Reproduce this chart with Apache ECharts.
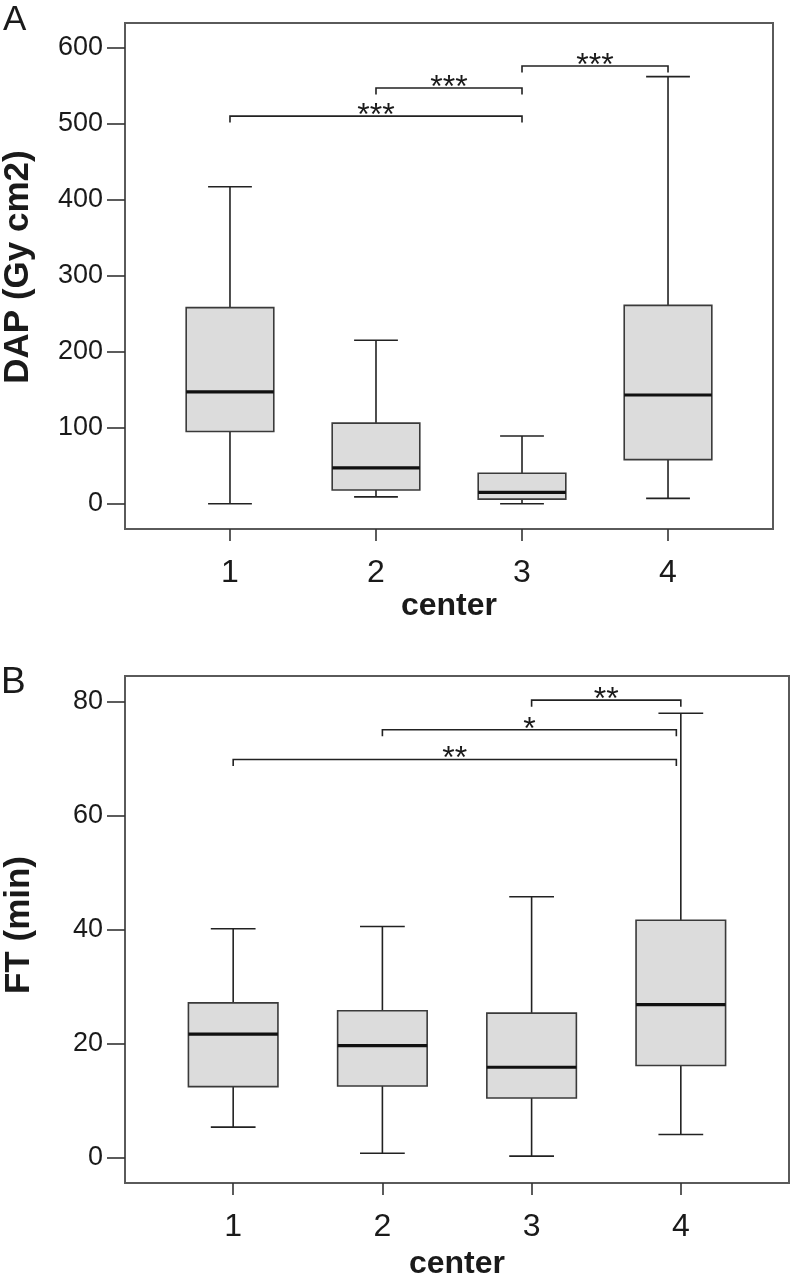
<!DOCTYPE html>
<html>
<head>
<meta charset="utf-8">
<script src="https://cdn.jsdelivr.net/npm/echarts@6/dist/echarts.min.js"></script>
<style>
html,body{margin:0;padding:0;background:#fff;}
#chart{width:794px;height:1282px;}
</style>
</head>
<body>
<div id="chart"></div>
<script>
// ---------- data ----------
const categories = ['1', '2', '3', '4'];
const catValues = [1, 2, 3, 4];

// Panel A: DAP (Gy cm2)
const dapMin    = [0,   9,   0,   7];
const dapQ1     = [95,  18,  6,   58];
const dapMedian = [147, 47,  15,  143];
const dapQ3     = [258, 106, 40,  261];
const dapMax    = [417, 215, 89,  562];
const dapTicks  = [0, 100, 200, 300, 400, 500, 600];
const dapBracketFrom  = [1, 2, 3];
const dapBracketTo    = [3, 3, 4];
const dapBracketY     = [510, 547, 576];
const dapBracketLabel = ['***', '***', '***'];

// Panel B: FT (min)
const ftMin    = [5.3,  0.7,  0.2,  4.0];
const ftQ1     = [12.4, 12.5, 10.4, 16.1];
const ftMedian = [21.6, 19.6, 15.8, 26.8];
const ftQ3     = [27.1, 25.7, 25.3, 41.6];
const ftMax    = [40.1, 40.5, 45.7, 77.9];
const ftTicks  = [0, 20, 40, 60, 80];
const ftBracketFrom  = [3, 2, 1];
const ftBracketTo    = [4, 3.97, 3.97];
const ftBracketY     = [80.2, 75, 69.8];
const ftBracketLabel = ['**', '*', '**'];

// ---------- styling ----------
const FONT = "'Liberation Sans', Arial, Helvetica, sans-serif";
const TXT = '#1a1a1a';
const BOX_W = 0.6, CAP_W = 0.3, BRACKET_TICK = 6.5;

function boxRows(mn, q1, md, q3, mx) {
  return catValues.map((c, i) => [c, mn[i], q1[i], md[i], q3[i], mx[i]]);
}
function bracketRows(from, to, y) {
  return from.map((f, i) => [f, to[i], y[i]]);
}

function renderBox(params, api) {
  const x = api.value(0);
  const pMin = api.coord([x, api.value(1)]);
  const pQ1 = api.coord([x, api.value(2)]);
  const pMed = api.coord([x, api.value(3)]);
  const pQ3 = api.coord([x, api.value(4)]);
  const pMax = api.coord([x, api.value(5)]);
  const bw = api.size([BOX_W, 0])[0];
  const cw = api.size([CAP_W, 0])[0];
  const cx = pMed[0];
  const ls = { stroke: '#222', lineWidth: 1.6 };
  return {
    type: 'group',
    children: [
      { type: 'line', shape: { x1: cx, y1: pQ3[1], x2: cx, y2: pMax[1] }, style: ls },
      { type: 'line', shape: { x1: cx, y1: pQ1[1], x2: cx, y2: pMin[1] }, style: ls },
      { type: 'line', shape: { x1: cx - cw / 2, y1: pMax[1], x2: cx + cw / 2, y2: pMax[1] }, style: ls },
      { type: 'line', shape: { x1: cx - cw / 2, y1: pMin[1], x2: cx + cw / 2, y2: pMin[1] }, style: ls },
      { type: 'rect', shape: { x: cx - bw / 2, y: pQ3[1], width: bw, height: pQ1[1] - pQ3[1] },
        style: { fill: '#dcdcdc', stroke: '#3a3a3a', lineWidth: 1.6 } },
      { type: 'line', shape: { x1: cx - bw / 2, y1: pMed[1], x2: cx + bw / 2, y2: pMed[1] },
        style: { stroke: '#111', lineWidth: 3.2 } }
    ]
  };
}

function makeRenderBracket(labels) {
  return function (params, api) {
    const p1 = api.coord([api.value(0), api.value(2)]);
    const p2 = api.coord([api.value(1), api.value(2)]);
    return {
      type: 'group',
      children: [
        { type: 'polyline',
          shape: { points: [[p1[0], p1[1] + BRACKET_TICK], [p1[0], p1[1]], [p2[0], p2[1]], [p2[0], p2[1] + BRACKET_TICK]] },
          style: { stroke: '#222', lineWidth: 1.6, fill: null } },
        { type: 'text',
          x: (p1[0] + p2[0]) / 2, y: p1[1],
          style: { text: labels[params.dataIndex], fill: TXT, font: '32px ' + FONT,
                   textAlign: 'center', textVerticalAlign: 'middle' } }
      ]
    };
  };
}

function xAxisFor(gridIndex, min, max, nameGap) {
  return {
    type: 'value', gridIndex, min, max, position: 'bottom',
    name: 'center', nameLocation: 'middle', nameGap,
    nameTextStyle: { fontFamily: FONT, fontSize: 32, fontWeight: 'bold', color: TXT },
    axisLine: { show: false, onZero: false },
    splitLine: { show: false },
    axisTick: { show: true, inside: false, length: 12, customValues: catValues,
                lineStyle: { color: '#333', width: 1.6 } },
    axisLabel: { show: true, customValues: catValues, margin: 28,
                 fontFamily: FONT, fontSize: 32, color: TXT,
                 formatter: v => categories[Math.round(v) - 1] }
  };
}
function yAxisFor(gridIndex, min, max, ticks) {
  return {
    type: 'value', gridIndex, min, max, position: 'left',
    axisLine: { show: false, onZero: false },
    splitLine: { show: false },
    axisTick: { show: true, inside: false, length: 18, customValues: ticks,
                lineStyle: { color: '#333', width: 1.6 } },
    axisLabel: { show: true, customValues: ticks, margin: 22,
                 fontFamily: FONT, fontSize: 27, color: TXT }
  };
}

const chart = echarts.init(document.getElementById('chart'), null, { renderer: 'canvas' });
chart.setOption({
  backgroundColor: '#fff',
  animation: false,
  grid: [
    { left: 125, top: 23, width: 648, height: 506, show: true, borderColor: '#5a5a5a', borderWidth: 2, backgroundColor: 'transparent' },
    { left: 125, top: 676, width: 664, height: 507, show: true, borderColor: '#5a5a5a', borderWidth: 2, backgroundColor: 'transparent' }
  ],
  xAxis: [
    xAxisFor(0, 0.281, 4.719, 59),
    xAxisFor(1, 0.275, 4.725, 65)
  ],
  yAxis: [
    yAxisFor(0, -33.3, 632.5, dapTicks),
    yAxisFor(1, -4.51, 84.44, ftTicks)
  ],
  series: [
    { type: 'custom', xAxisIndex: 0, yAxisIndex: 0, renderItem: renderBox,
      encode: { x: 0, y: [1, 2, 3, 4, 5] },
      data: boxRows(dapMin, dapQ1, dapMedian, dapQ3, dapMax), z: 2 },
    { type: 'custom', xAxisIndex: 0, yAxisIndex: 0, renderItem: makeRenderBracket(dapBracketLabel),
      encode: { x: [0, 1], y: 2 },
      data: bracketRows(dapBracketFrom, dapBracketTo, dapBracketY), z: 3 },
    { type: 'custom', xAxisIndex: 1, yAxisIndex: 1, renderItem: renderBox,
      encode: { x: 0, y: [1, 2, 3, 4, 5] },
      data: boxRows(ftMin, ftQ1, ftMedian, ftQ3, ftMax), z: 2 },
    { type: 'custom', xAxisIndex: 1, yAxisIndex: 1, renderItem: makeRenderBracket(ftBracketLabel),
      encode: { x: [0, 1], y: 2 },
      data: bracketRows(ftBracketFrom, ftBracketTo, ftBracketY), z: 3 }
  ],
  graphic: [
    { type: 'text', left: 3, top: 3,
      style: { text: 'A', font: '35px ' + FONT, fill: TXT } },
    { type: 'text', left: 1, top: 664,
      style: { text: 'B', font: '37px ' + FONT, fill: TXT } },
    { type: 'text', x: 18, y: 267, rotation: Math.PI / 2,
      style: { text: 'DAP (Gy cm2)', font: 'bold 35px ' + FONT, fill: TXT,
               textAlign: 'center', textVerticalAlign: 'middle' } },
    { type: 'text', x: 19, y: 925, rotation: Math.PI / 2,
      style: { text: 'FT (min)', font: 'bold 35px ' + FONT, fill: TXT,
               textAlign: 'center', textVerticalAlign: 'middle' } }
  ]
});
</script>
</body>
</html>
